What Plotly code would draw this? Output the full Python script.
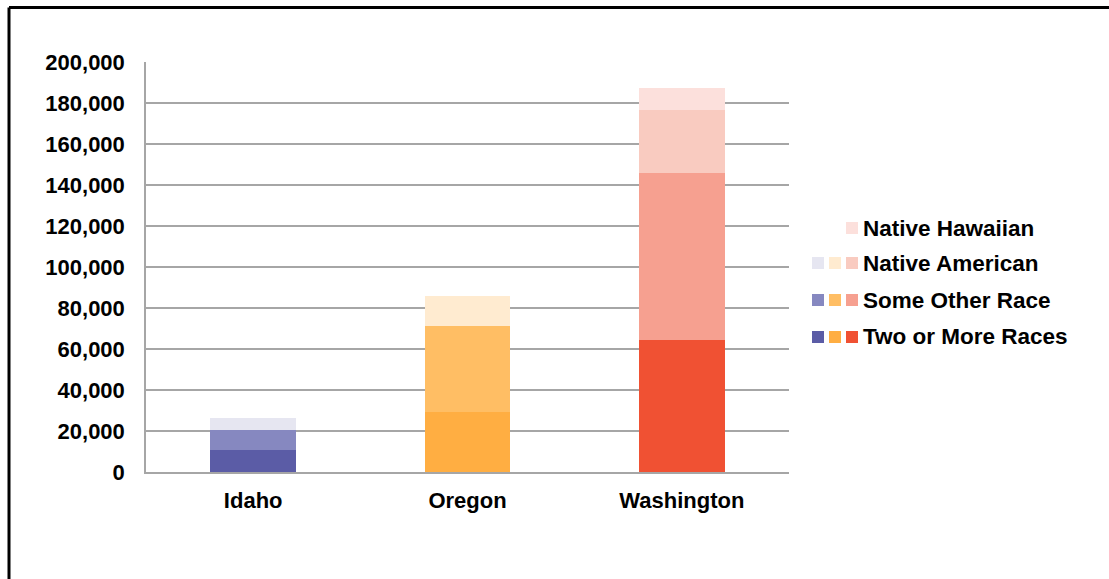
import plotly.graph_objects as go

states = ["Idaho", "Oregon", "Washington"]
categories = ["Two or More Races", "Some Other Race", "Native American", "Native Hawaiian"]
two_or_more = [10700, 29300, 64400]
some_other = [9600, 41900, 81500]
native_american = [6000, 14700, 30700]
native_hawaiian = [0, 0, 10700]
values = [two_or_more, some_other, native_american, native_hawaiian]

# colours per category (rows) and state (columns)
colors = [
    ["#5b5ca6", "#ffae42", "#f05133"],
    ["#8688c0", "#ffbe64", "#f6a090"],
    ["#e6e6f1", "#ffebd0", "#f9cbc0"],
    ["#e6e6f1", "#ffebd0", "#fce0dc"],
]

W, H = 1109, 579
L, R, T, B = 146, 789, 62, 472
FONT = "Liberation Sans, Arial, sans-serif"
FS = 22


def px(x):
    return (x - L) / (R - L)


def py(y):
    return (B - y) / (B - T)


fig = go.Figure()
for cat, vals, cols in zip(categories, values, colors):
    fig.add_trace(go.Bar(x=states, y=vals, name=cat, marker=dict(color=cols, line=dict(width=0)),
                         showlegend=False))

shapes = []
annotations = []
# border
shapes.append(dict(type="line", xref="paper", yref="paper", x0=px(9), x1=px(W + 10), y0=py(7.5), y1=py(7.5),
                   line=dict(color="black", width=3)))
shapes.append(dict(type="line", xref="paper", yref="paper", x0=px(9), x1=px(9), y0=py(7.5), y1=py(H + 10),
                   line=dict(color="black", width=3)))

# manual legend
row_y = [337, 300, 263, 228]
col_x = [812, 829, 846]
for ci, (cat, vals, cols) in enumerate(zip(categories, values, colors)):
    yc = row_y[ci]
    for si in range(len(states)):
        if vals[si] > 0:
            shapes.append(dict(type="rect", xref="paper", yref="paper",
                               x0=px(col_x[si]), x1=px(col_x[si] + 12),
                               y0=py(yc + 6), y1=py(yc - 6),
                               fillcolor=cols[si], line=dict(width=0)))
    annotations.append(dict(xref="paper", yref="paper", x=px(861), y=py(yc), text=cat, showarrow=False,
                            xanchor="left", yanchor="middle",
                            font=dict(family=FONT, size=22.5, color="black", weight="bold")))

fig.update_layout(
    width=W, height=H,
    margin=dict(l=L, r=W - R, t=T, b=H - B, pad=0),
    paper_bgcolor="white", plot_bgcolor="white",
    barmode="stack", bargap=0.6,
    showlegend=False,
    shapes=shapes, annotations=annotations,
    font=dict(family=FONT, size=FS, color="black", weight="bold"),
)
fig.update_yaxes(range=[0, 200000], dtick=20000, tickformat=",d", showgrid=True, gridcolor="#a6a6a6",
                 gridwidth=1.5, zeroline=False, showline=True, linecolor="#a6a6a6", linewidth=1.5,
                 ticks="", ticklabelstandoff=15,
                 tickfont=dict(family=FONT, size=FS, color="black", weight="bold"))
fig.update_xaxes(showline=True, linecolor="#a6a6a6", linewidth=1.5, ticks="", ticklabelstandoff=8,
                 tickfont=dict(family=FONT, size=FS, color="black", weight="bold"))

fig.write_html("out.html", config={"displayModeBar": False},
               post_script="document.body.style.margin='0';document.body.style.overflow='hidden';")
